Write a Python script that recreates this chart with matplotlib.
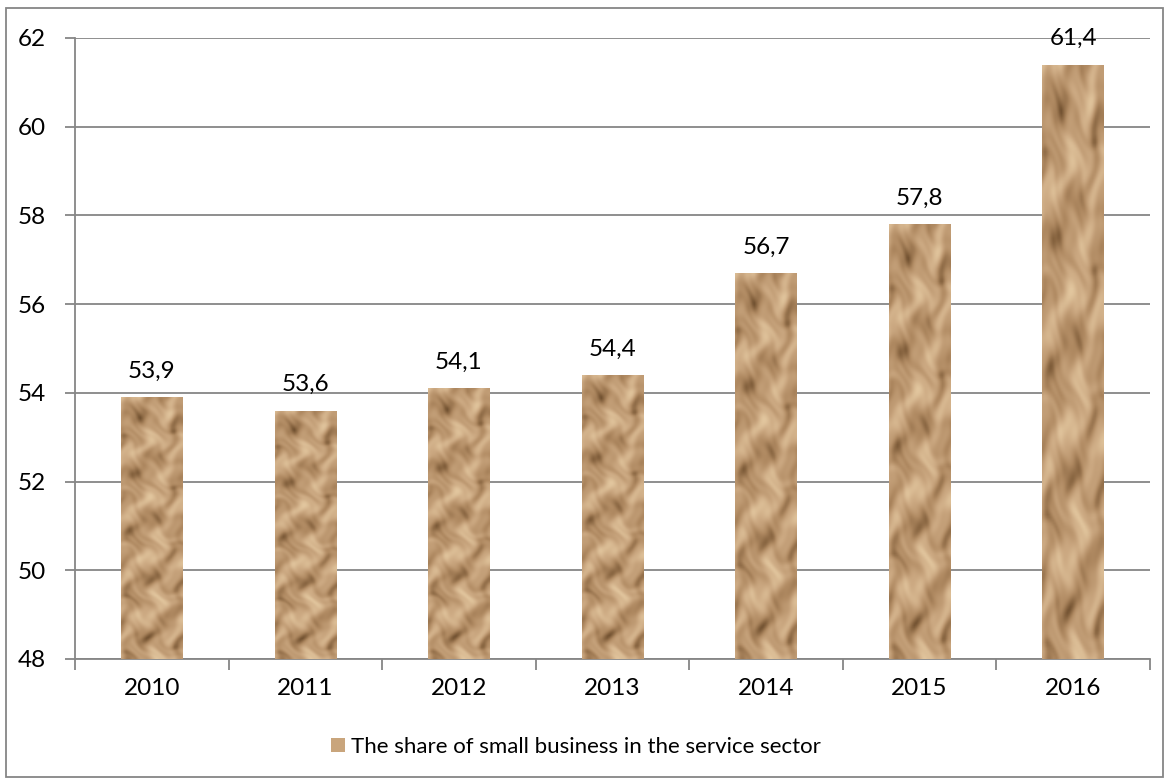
import numpy as np
import matplotlib
matplotlib.use('Agg')
import matplotlib.pyplot as plt
from matplotlib.colors import LinearSegmentedColormap
from matplotlib.patches import Rectangle

# Data
years = ['2010', '2011', '2012', '2013', '2014', '2015', '2016']
share = [53.9, 53.6, 54.1, 54.4, 56.7, 57.8, 61.4]
labels = ['53,9', '53,6', '54,1', '54,4', '56,7', '57,8', '61,4']
series_name = 'The share of small business in the service sector'

plt.rcParams['font.family'] = ['Lato', 'DejaVu Sans']

GRID = '#868686'
paper = LinearSegmentedColormap.from_list(
    'paper', ['#553a1f', '#86633f', '#b08a62', '#cba881', '#e2c69e'])


def paper_texture(h=200, w=40):
    """Crumpled-paper look built from warped diagonal ripples."""
    yy, xx = np.mgrid[0:h, 0:w].astype(float)
    # bend the coordinates so the creases wander
    u = xx + 3.0 * np.sin(yy / 7.0) + 2.0 * np.sin(yy / 3.3 + 1.0)
    v = yy + 4.0 * np.sin(xx / 6.0 + 0.5) + 2.5 * np.sin(xx / 2.7)
    t = (np.sin((u * 0.9 + v * 0.6) / 4.2)
         + 0.6 * np.sin((u * 0.3 - v * 0.9) / 3.4 + 1.3)
         + 0.45 * np.sin((u * 1.2 + v * 0.35) / 2.1 + 0.7)
         + 0.35 * np.sin(v / 6.5 + 2.0)
         + 0.25 * np.sin((u - v) / 1.7))
    t = (t - t.min()) / (t.max() - t.min())
    return 0.15 + 0.85 * t ** 0.8


fig = plt.figure(figsize=(11.69, 7.83), dpi=100)
ax = fig.add_axes([0.0642, 0.1584, 0.9195, 0.7931])

x = np.arange(len(years))
bars = ax.bar(x, [v - 48 for v in share], bottom=48, width=0.40,
              color='#c29d74', edgecolor='none', zorder=2)

tex = paper_texture()
for b in bars:
    x0, y0 = b.get_x(), b.get_y()
    im = ax.imshow(tex, cmap=paper, vmin=0, vmax=1, aspect='auto',
                   extent=(x0, x0 + b.get_width(), y0, y0 + b.get_height()),
                   zorder=3, interpolation='bilinear')
    im.set_clip_path(b)

for xi, v, lab in zip(x, share, labels):
    ax.annotate(lab, (xi, v), xytext=(0, 11), textcoords='offset points',
                ha='center', va='bottom', fontsize=17.5, color='black', zorder=5)

ax.set_xlim(-0.5, len(years) - 0.5)
ax.set_ylim(48, 62)
ax.set_yticks(range(48, 63, 2))
ax.set_xticks(x)
ax.set_xticklabels(years)
ax.set_xticks(np.arange(-0.5, len(years), 1), minor=True)

ax.tick_params(axis='y', length=7, width=1.3, color=GRID, labelsize=17.5, pad=14)
ax.tick_params(axis='x', which='major', length=0, labelsize=17.5, pad=14)
ax.tick_params(axis='x', which='minor', length=8, width=1.3, color=GRID)

ax.grid(axis='y', color=GRID, linewidth=1.3, zorder=0)
ax.set_axisbelow(True)
for side in ['top', 'right']:
    ax.spines[side].set_visible(False)
for side in ['left', 'bottom']:
    ax.spines[side].set_color(GRID)
    ax.spines[side].set_linewidth(1.3)

handle = Rectangle((0, 0), 1, 1, facecolor='#c9a57c', edgecolor='none')
fig.legend([handle], [series_name], loc='center', bbox_to_anchor=(0.493, 0.046),
           frameon=False, fontsize=16, handlelength=0.6, handleheight=0.6,
           handletextpad=0.3)

fig.add_artist(Rectangle((0.005, 0.008), 0.99, 0.982, transform=fig.transFigure,
                         fill=False, edgecolor=GRID, linewidth=1.3))

fig.savefig('out.png', dpi=100)
